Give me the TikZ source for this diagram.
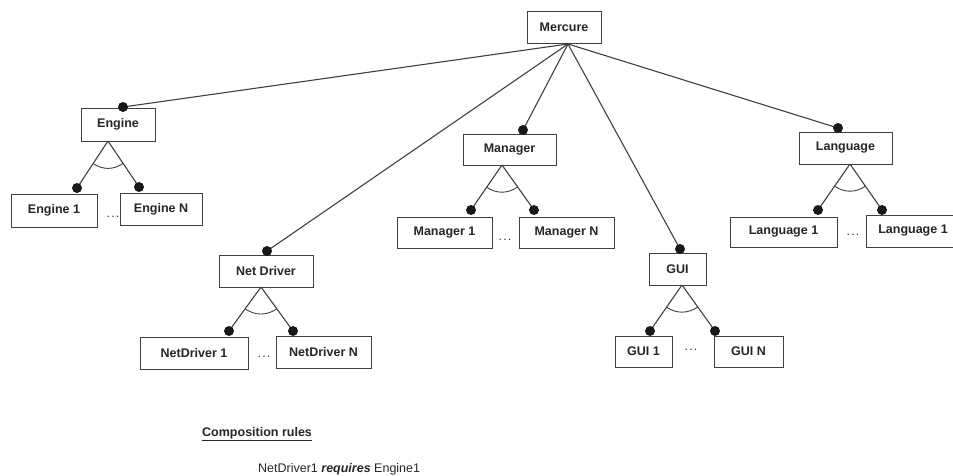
\documentclass[tikz,border=0pt]{standalone}
\usepackage{fontspec}
\setmainfont{Liberation Sans}
\usetikzlibrary{calc}
\begin{document}
\begin{tikzpicture}[x=1pt,y=1pt,
  feature/.style={draw=black!75, line width=1pt, fill=white,
    font=\fontsize{12.5}{14}\selectfont\bfseries, text=black!85,
    inner sep=0pt, minimum height=32pt},
  link/.style={draw=black!75, line width=1.1pt},
  altarc/.style={draw=black!75, line width=0.9pt},
  knob/.style={circle, inner sep=0pt, minimum size=10pt},
  ellip/.style={font=\fontsize{12.5}{14}\selectfont, text=black!80, anchor=base},
  plain/.style={font=\fontsize{12.5}{14}\selectfont, text=black!85, anchor=base west, inner sep=0pt}
]
\useasboundingbox (0,0) rectangle (953,-475);

% ---------- feature boxes ----------
\node[feature, minimum width=74pt] (mercure) at (564,-27) {Mercure};

\node[feature, minimum width=74pt, minimum height=33pt] (engine)  at (118,-124.5) {Engine};
\node[feature, minimum width=86pt, minimum height=33pt] (engine1) at (54,-210.5) {Engine 1};
\node[feature, minimum width=82pt] (engineN) at (161,-209) {Engine N};

\node[feature, minimum width=94pt] (netdrv)  at (266,-271) {Net Driver};
\node[feature, minimum width=108pt] (netdrv1) at (194,-353) {NetDriver 1};
\node[feature, minimum width=95pt] (netdrvN) at (323.5,-352) {NetDriver N};

\node[feature, minimum width=93pt, minimum height=31pt] (manager)  at (509.5,-149.5) {Manager};
\node[feature, minimum width=95pt, minimum height=31pt] (manager1) at (444.5,-232.5) {Manager 1};
\node[feature, minimum width=95pt, minimum height=31pt] (managerN) at (566.5,-232.5) {Manager N};

\node[feature, minimum width=57pt] (gui)  at (677.5,-269) {GUI};
\node[feature, minimum width=57pt, minimum height=31pt] (gui1) at (643.5,-351.5) {GUI 1};
\node[feature, minimum width=69pt, minimum height=31pt] (guiN) at (748.5,-351.5) {GUI N};

\node[feature, minimum width=93pt] (lang)  at (845.5,-148) {Language};
\node[feature, minimum width=107pt, minimum height=30pt] (lang1) at (783.5,-232) {Language 1};
\node[feature, minimum width=94pt] (langR) at (913,-231) {Language 1};

% ---------- attachment knobs ----------
\coordinate (root) at (568,-44);
\node[knob] (k-engine)  at (123,-107) {};
\node[knob] (k-netdrv)  at (267,-251) {};
\node[knob] (k-manager) at (523,-130) {};
\node[knob] (k-gui)     at (680,-249) {};
\node[knob] (k-lang)    at (838,-128) {};

\node[knob] (k-engine1) at (77,-188) {};
\node[knob] (k-engineN) at (139,-187) {};
\node[knob] (k-netdrv1) at (229,-331) {};
\node[knob] (k-netdrvN) at (293,-331) {};
\node[knob] (k-manager1) at (471,-210) {};
\node[knob] (k-managerN) at (534,-210) {};
\node[knob] (k-gui1) at (650,-331) {};
\node[knob] (k-guiN) at (715,-331) {};
\node[knob] (k-lang1) at (818,-210) {};
\node[knob] (k-langR) at (882,-210) {};

% ---------- apexes of the alternative groups ----------
\coordinate (a-engine)  at (108,-141);
\coordinate (a-netdrv)  at (261,-287);
\coordinate (a-manager) at (502,-165);
\coordinate (a-gui)     at (682,-285);
\coordinate (a-lang)    at (850,-164);

% ---------- edges from the root ----------
\foreach \f in {engine,netdrv,manager,gui,lang}
  \draw[link] (root) -- (k-\f.center);

% ---------- alternative groups ----------
\foreach \f/\l/\r in {engine/engine1/engineN, netdrv/netdrv1/netdrvN,
                      manager/manager1/managerN, gui/gui1/guiN, lang/lang1/langR}{
  \draw[link] (a-\f) -- (k-\l.center);
  \draw[link] (a-\f) -- (k-\r.center);
  \draw[altarc] ($(a-\f)!27pt!(k-\l.center)$) to[bend right=34] ($(a-\f)!27pt!(k-\r.center)$);
}

% knobs on top of the lines
\foreach \k in {engine,netdrv,manager,gui,lang,engine1,engineN,netdrv1,netdrvN,
                manager1,managerN,gui1,guiN,lang1,langR}
  \fill[black!90] (k-\k) circle (5pt);

% ---------- ellipses between siblings ----------
\newcommand{\sibdots}{.\kern1.2pt.\kern1.2pt.}
\node[ellip] (dots-engine)  at (113,-217) {\sibdots};
\node[ellip] (dots-netdrv)  at (264,-357) {\sibdots};
\node[ellip] (dots-manager) at (505,-240) {\sibdots};
\node[ellip] (dots-gui)     at (691,-350) {\sibdots};
\node[ellip] (dots-lang)    at (853,-235) {\sibdots};

% ---------- composition rules ----------
\node[plain] (rules) at (202,-436) {\bfseries\underline{Composition rules}};
\node[plain] (rule1) at (258,-472) {NetDriver1 \textbf{\textit{requires}} Engine1};
\end{tikzpicture}
\end{document}
